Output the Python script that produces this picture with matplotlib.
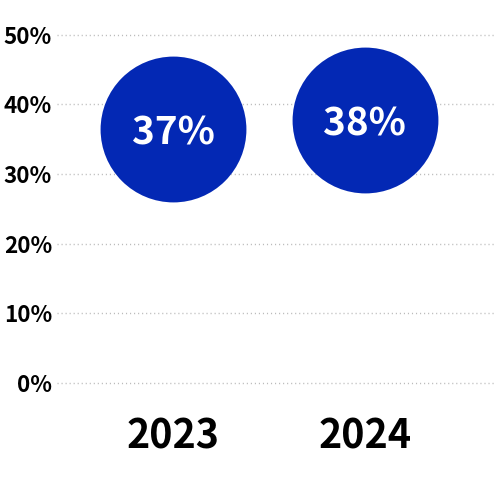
import matplotlib
matplotlib.use("Agg")
import matplotlib.pyplot as plt

years = ["2023", "2024"]
values = [36.4, 37.8]
labels = ["37%", "38%"]
yticks = [0, 10, 20, 30, 40, 50]
ytick_labels = ["0%", "10%", "20%", "30%", "40%", "50%"]

plt.rcParams['font.family'] = ['Noto Sans CJK KR', 'DejaVu Sans']

W, H = 502, 488
fig = plt.figure(figsize=(W/100, H/100), dpi=100)
ax = fig.add_axes([57/W, (H-383)/H, (495-57)/W, (383-34.7)/H])

x = list(range(len(years)))
ax.hlines(yticks, -0.608, 1.681, colors="#BBBBBB", linewidth=1.0,
          linestyles=[(0, (0.8, 2.1))], zorder=0, clip_on=False)
ax.scatter(x, values, s=105**2, color="#0328B4", linewidths=0, zorder=3, clip_on=False)
for xi, v, lab in zip(x, values, labels):
    ax.text(xi, v, lab, ha="center", va="center_baseline", color="white",
            fontsize=27.8, fontweight="bold", zorder=4)

ax.set_xlim(-0.608, 1.681)
ax.set_ylim(0, 50)
ax.set_yticks(yticks)
ax.set_yticklabels(ytick_labels, fontsize=16.2, fontweight="bold")
ax.set_xticks(x)
ax.set_xticklabels(years, fontsize=28.4, fontweight="bold")
ax.tick_params(axis="y", length=0, pad=3.5)
ax.tick_params(axis="x", length=0, pad=24)
for s in ax.spines.values():
    s.set_visible(False)

fig.savefig("out.png", dpi=100)
